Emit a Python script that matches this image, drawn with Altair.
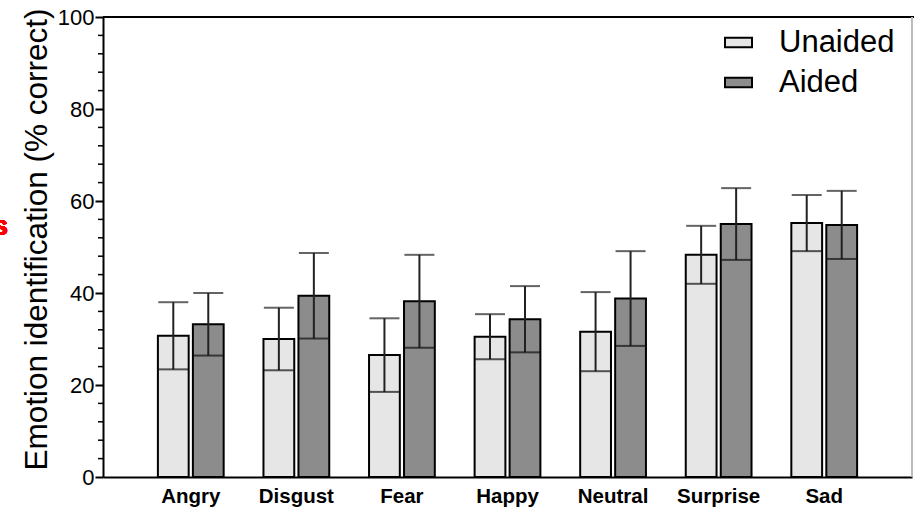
import altair as alt
import pandas as pd

categories = ["Angry", "Disgust", "Fear", "Happy", "Neutral", "Surprise", "Sad"]
conditions = ["Unaided", "Aided"]
unaided_mean = [30.7, 30.0, 26.5, 30.5, 31.6, 48.3, 55.2]
unaided_sd = [7.3, 6.8, 8.0, 4.9, 8.6, 6.3, 6.1]
aided_mean = [33.2, 39.4, 38.2, 34.3, 38.8, 55.0, 54.8]
aided_sd = [6.8, 9.3, 10.1, 7.2, 10.3, 7.8, 7.4]
major_ticks = [0, 20, 40, 60, 80, 100]
minor_ticks = [v for v in range(0, 101, 4) if v % 20 != 0]

rows = []
for i, c in enumerate(categories):
    for cond, m, s in (("Unaided", unaided_mean, unaided_sd), ("Aided", aided_mean, aided_sd)):
        rows.append({"emotion": c, "cond": cond, "mean": m[i], "lo": m[i] - s[i], "hi": m[i] + s[i]})
df = pd.DataFrame(rows)
minor_df = pd.DataFrame({"v": minor_ticks})

W, H = 809, 460
FONT = "Liberation Sans"

x = alt.X("emotion:N", sort=categories, title=None,
          scale=alt.Scale(paddingInner=0.377, paddingOuter=0.52),
          axis=alt.Axis(labelAngle=0, ticks=False, labelFont=FONT, labelFontSize=20.5,
                        labelFontWeight="bold", labelColor="#000", labelPadding=9,
                        domainColor="#000", domainWidth=2))
xo = alt.XOffset("cond:N", sort=conditions, scale=alt.Scale(paddingInner=0.12))
yscale = alt.Scale(domain=[0, 100], nice=False)

base = alt.Chart(df)

bars = base.mark_bar(stroke="#000", strokeWidth=2).encode(
    x=x, xOffset=xo,
    y=alt.Y("mean:Q", scale=yscale,
            title="Emotion identification (% correct)",
            axis=alt.Axis(values=major_ticks, tickSize=8, tickWidth=2, tickColor="#000",
                          domainColor="#000", domainWidth=2, grid=False,
                          labelFont=FONT, labelFontSize=22, labelColor="#000", labelPadding=1,
                          titleFont=FONT, titleFontSize=31.5, titleFontWeight="normal",
                          titleColor="#000", titleX=-57, titleY=222, titleAngle=270,
                          titleAlign="center", titleBaseline="alphabetic")),
    color=alt.Color("cond:N", sort=conditions,
                    scale=alt.Scale(domain=conditions, range=["#e6e6e6", "#8c8c8c"]),
                    legend=alt.Legend(title=None, orient="none", legendX=620, legendY=10,
                                      symbolType="M-1,-0.35H1V0.35H-1Z", symbolSize=729,
                                      symbolStrokeColor="#000", symbolStrokeWidth=2,
                                      labelFont=FONT, labelFontSize=31, labelColor="#000",
                                      labelOffset=25, rowPadding=8, padding=0,
                                      symbolOpacity=1)),
)

err = base.mark_rule(color="#222", strokeWidth=2).encode(
    x=x, xOffset=xo, y=alt.Y("lo:Q", scale=yscale), y2="hi:Q")
cap_hi = base.mark_tick(color="#222", thickness=2, size=30).encode(
    x=x, xOffset=xo, y=alt.Y("hi:Q", scale=yscale))
cap_lo = base.mark_tick(color="#111", thickness=2, size=30).encode(
    x=x, xOffset=xo, y=alt.Y("lo:Q", scale=yscale))

minor = alt.Chart(minor_df).mark_rule(color="#000", strokeWidth=1.5).encode(
    y=alt.Y("v:Q", scale=yscale), x=alt.value(-5), x2=alt.value(0))

top_line = alt.Chart(minor_df).mark_rule(color="#000", strokeWidth=2).encode(
    x=alt.value(0), x2=alt.value(W + 2), y=alt.value(0))
right_line = alt.Chart(minor_df).mark_rule(color="#bbb", strokeWidth=1).encode(
    x=alt.value(W), y=alt.value(0), y2=alt.value(H))

red_s = alt.Chart(minor_df).mark_text(text="s", color="#ff0000", fontSize=28,
                                      fontWeight="bold", font=FONT, align="right",
                                      baseline="alphabetic").encode(
    x=alt.value(-95), y=alt.value(218))

chart = alt.layer(bars, err, cap_hi, cap_lo, minor, top_line, right_line, red_s).properties(
    width=W, height=H,
    autosize=alt.AutoSizeParams(type="none"),
    padding={"left": 103, "top": 17, "right": 2, "bottom": 31},
).configure_view(stroke=None).configure(background="#ffffff")

chart.save("out.html", embed_options={"renderer": "svg", "actions": False})
